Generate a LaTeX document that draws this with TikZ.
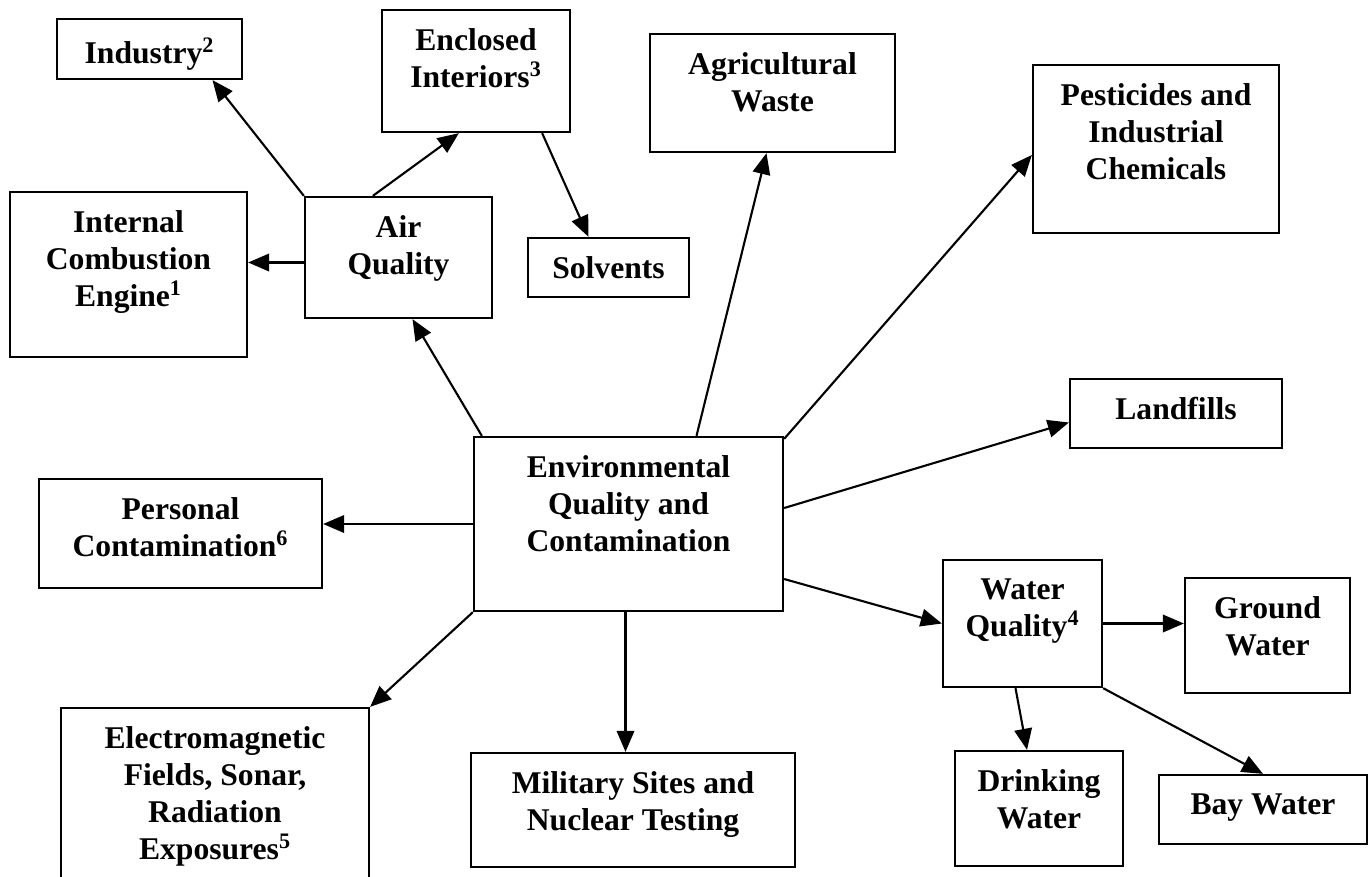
\documentclass[tikz,border=0pt]{standalone}
\usepackage{fontspec}
\setmainfont{Liberation Serif}
\usetikzlibrary{arrows.meta,fit,calc}

\tikzset{
  box/.style={draw,line width=1.3pt,inner sep=0pt},
  txt/.style={anchor=north,align=center,inner sep=0pt,yshift=-11pt,
    font=\bfseries\fontsize{18}{21}\selectfont},
  arr/.style={-{Triangle[length=12pt,width=10pt]},line width=1.2pt}
}

\begin{document}
\begin{tikzpicture}[x=0.02cm,y=-0.02cm]
\path[use as bounding box] (0,0) rectangle (1368,876);
\node[box,fit={(57,19) (242,79)},label={[txt]north:{Industry\textsuperscript{2}}}] (ind) {};
\node[box,fit={(382,10) (570,132)},label={[txt]north:{Enclosed\\Interiors\textsuperscript{3}}}] (encl) {};
\node[box,fit={(650,34) (895,152)},label={[txt]north:{Agricultural\\Waste}}] (agri) {};
\node[box,fit={(1033,65) (1279,233)},label={[txt]north:{Pesticides and\\Industrial\\Chemicals}}] (pest) {};
\node[box,fit={(10,192) (247,357)},label={[txt]north:{Internal\\Combustion\\Engine\textsuperscript{1}}}] (intc) {};
\node[box,fit={(305,197) (492,318)},label={[txt]north:{Air\\Quality}}] (air) {};
\node[box,fit={(528,238) (689,297)},label={[txt]north:{Solvents}}] (solv) {};
\node[box,fit={(1070,379) (1282,448)},label={[txt]north:{Landfills}}] (land) {};
\node[box,fit={(474,437) (783,611)},label={[txt]north:{Environmental\\Quality and\\Contamination}}] (env) {};
\node[box,fit={(39,479) (322,588)},label={[txt]north:{Personal\\Contamination\textsuperscript{6}}}] (pers) {};
\node[box,fit={(943,560) (1102,687)},label={[txt]north:{Water\\Quality\textsuperscript{4}}}] (water) {};
\node[box,fit={(1185,578) (1350,693)},label={[txt]north:{Ground\\Water}}] (ground) {};
\node[box,fit={(61,708) (369,882)},label={[txt]north:{Electromagnetic\\Fields, Sonar,\\Radiation\\Exposures\textsuperscript{5}}}] (em) {};
\node[box,fit={(471,753) (795,867)},label={[txt]north:{Military Sites and\\Nuclear Testing}}] (mil) {};
\node[box,fit={(955,751) (1123,866)},label={[txt]north:{Drinking\\Water}}] (drink) {};
\node[box,fit={(1159,775) (1367,844)},label={[txt]north:{Bay Water}}] (bay) {};

\coordinate (aq) at ($(air.west)+(0,5)$);
\coordinate (es) at ($(env.south)+(-3,0)$);
\draw[arr] (air.north west) -- ($(ind.south)+(63,0)$);
\draw[arr] ($(air.north west)+(69,0)$) -- ($(encl.south west)+(78,0)$);
\draw[arr] (aq) -- (aq -| intc.east);
\draw[arr] ($(encl.south east)+(-29,0)$) -- ($(solv.north)+(-20,0)$);
\draw[arr] ($(env.north west)+(9,0)$) -- ($(air.south)+(14,0)$);
\draw[arr] ($(env.north)+(68,0)$) -- ($(agri.south)+(-6,0)$);
\draw[arr] ($(env.north east)+(0,3)$) -- ($(pest.west)+(0,6)$);
\draw[arr] ($(env.east)+(0,-16)$) -- ($(land.west)+(0,9)$);
\draw[arr] ($(env.east)+(0,55)$) -- (water.west);
\draw[arr] (env.west) -- (env.west -| pers.east);
\draw[arr] (env.south west) -- (em.north east);
\draw[arr] (es) -- (es |- mil.north);
\draw[arr] (water.east) -- (water.east -| ground.west);
\draw[arr] ($(water.south)+(-7,0)$) -- ($(drink.north)+(-12,0)$);
\draw[arr] (water.south east) -- (bay.north);
\end{tikzpicture}
\end{document}
